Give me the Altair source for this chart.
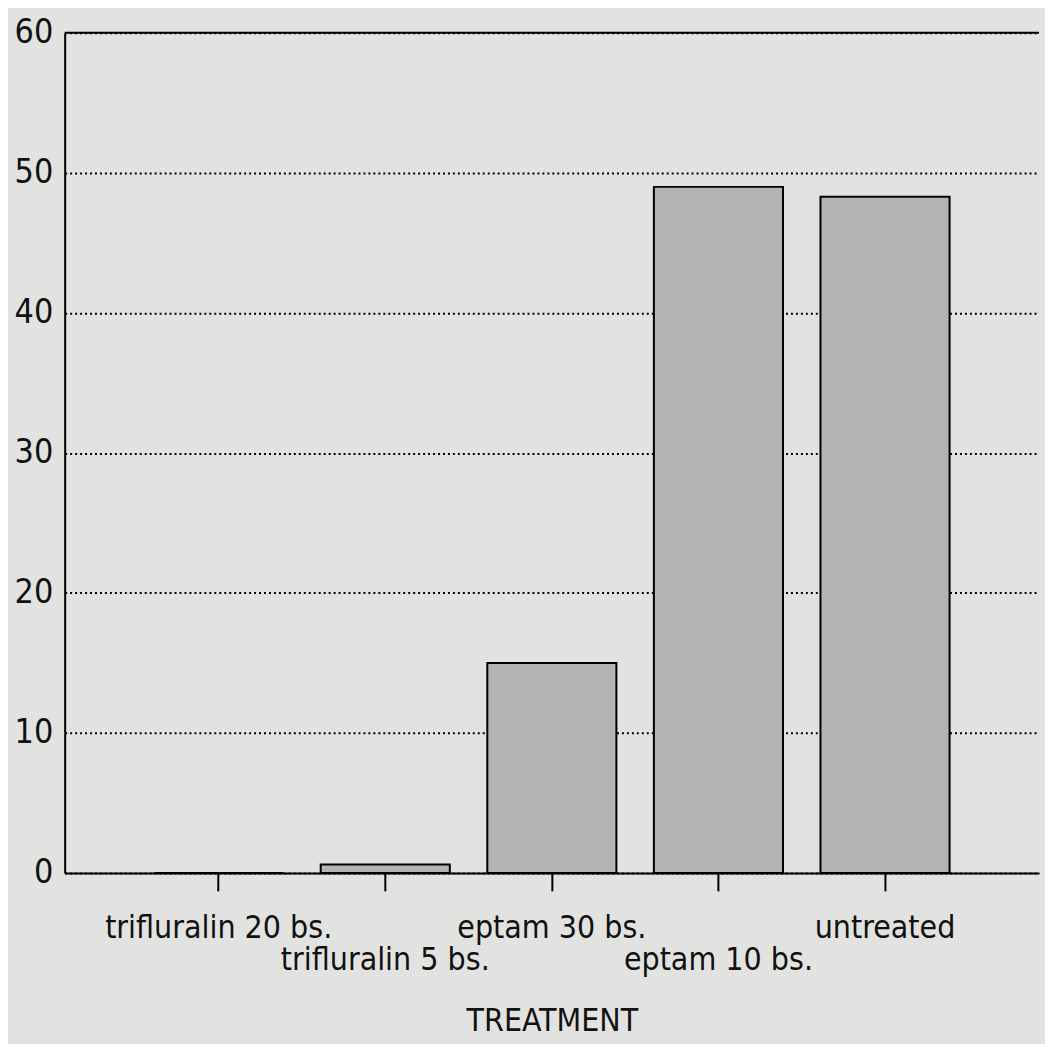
import altair as alt
import pandas as pd

treatments = ["trifluralin 20 bs.", "trifluralin 5 bs.", "eptam 30 bs.", "eptam 10 bs.", "untreated"]
values = [0.0, 0.6, 15.0, 49.0, 48.3]
y_ticks = [0, 10, 20, 30, 40, 50, 60]

df = pd.DataFrame({"treatment": treatments, "value": values})
top = pd.DataFrame({"y": [60]})

FONT = "DejaVu Sans Condensed, Liberation Sans Narrow, DejaVu Sans"

x_enc = alt.X(
    "treatment:N",
    sort=treatments,
    title="TREATMENT",
    scale=alt.Scale(paddingInner=0.225, paddingOuter=0.537),
    axis=alt.Axis(
        labelAngle=0,
        labelExpr="indexof(['trifluralin 5 bs.', 'eptam 10 bs.'], datum.label) >= 0 ? ['', datum.label] : datum.label",
        labelLineHeight=32,
        labelBaseline="top",
        labelPadding=22,
        labelLimit=500,
        tickSize=18,
        tickWidth=2,
        tickColor="black",
        domainColor="black",
        domainWidth=2,
        labelFont=FONT,
        labelFontSize=32,
        labelColor="#111",
        titleFont=FONT,
        titleFontSize=32,
        titleFontWeight="normal",
        titleColor="#111",
        titlePadding=30,
    ),
)

bars = alt.Chart(df).mark_bar(
    fill="#b4b4b2", stroke="black", strokeWidth=2
).encode(
    x=x_enc,
    y=alt.Y(
        "value:Q",
        title=None,
        scale=alt.Scale(domain=[0, 60], nice=False),
        axis=alt.Axis(
            values=y_ticks,
            tickSize=0,
            labelPadding=12,
            labelFont=FONT,
            labelFontSize=34,
            labelColor="#111",
            domainColor="black",
            domainWidth=2,
            grid=True,
            gridColor="black",
            gridDash=[2, 3],
            gridWidth=2,
            minExtent=52,
        ),
    ),
)

top_rule = alt.Chart(top).mark_rule(color="black", strokeWidth=2).encode(y="y:Q")

chart = alt.layer(bars, top_rule).properties(
    width=980, height=845, background="#e2e3e1"
).configure_view(stroke=None)

chart.save("out.html", embed_options={"renderer": "svg", "actions": False})
